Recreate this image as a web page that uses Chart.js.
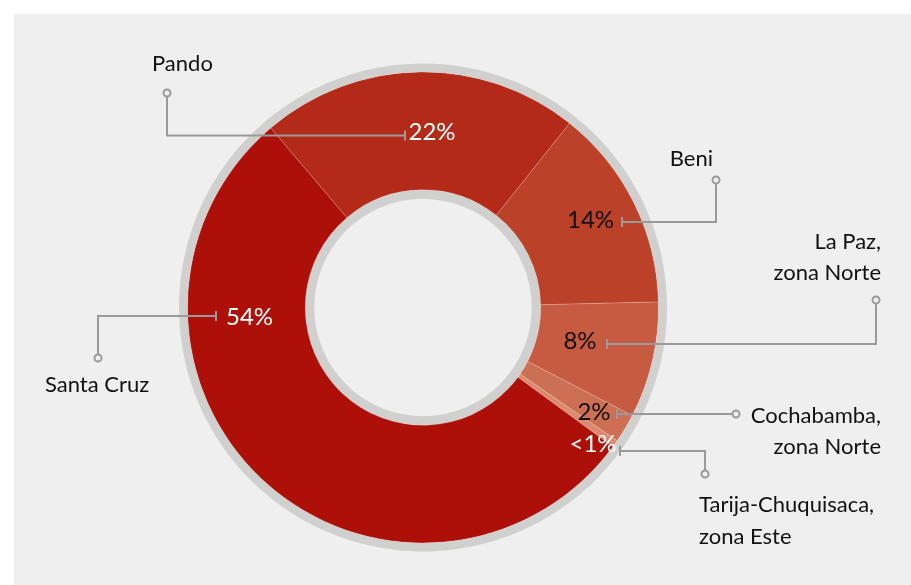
<!DOCTYPE html>
<html>
<head>
<meta charset="utf-8">
<script src="https://cdn.jsdelivr.net/npm/chart.js@4"></script>
<style>
  html, body { margin: 0; padding: 0; background: #ffffff; }
  canvas { display: block; }
</style>
</head>
<body>
<canvas id="zonasChart" width="911" height="585"></canvas>
<script>
  // Share of each zone, clockwise from Pando
  const zonas = ['Pando', 'Beni', 'La Paz, zona Norte', 'Cochabamba, zona Norte', 'Tarija-Chuquisaca, zona Este', 'Santa Cruz'];
  const porcentajes = [22, 14, 8, 2, 0.5, 54];
  const etiquetasPct = ['22%', '14%', '8%', '2%', '<1%', '54%'];
  const coloresZona = ['#b42a18', '#bb4128', '#c75b41', '#cd6f54', '#db8a70', '#ad1009'];

  // Callout layout, offsets from the doughnut centre (px)
  const callouts = [
    { pct: [9, -175.5], pctColor: '#ffffff', path: [[-18, -172], [-256, -172], [-256, -214.5]],
      lines: ['Pando'], at: [-271, -236.5], align: 'left' },
    { pct: [167.5, -87.5], pctColor: '#111111', path: [[199, -85.5], [293, -85.5], [293, -127.5]],
      lines: ['Beni'], at: [290, -141.5], align: 'right' },
    { pct: [157, 33.5], pctColor: '#111111', path: [[184, 36.5], [453, 36.5], [453, -7.5]],
      lines: ['La Paz,', 'zona Norte'], at: [458, -59], align: 'right' },
    { pct: [171, 104.5], pctColor: '#111111', path: [[194, 106.5], [313, 106.5]],
      lines: ['Cochabamba,', 'zona Norte'], at: [458, 115], align: 'right' },
    { pct: [170, 136.5], pctColor: '#ffffff', path: [[197, 143.5], [282, 143.5], [282, 166.5]],
      lines: ['Tarija-Chuquisaca,', 'zona Este'], at: [276, 204.5], align: 'left' },
    { pct: [-173.5, 9.5], pctColor: '#ffffff', path: [[-207, 8.5], [-325, 8.5], [-325, 50.5]],
      lines: ['Santa Cruz'], at: [-378, 84.5], align: 'left' }
  ];

  const FONDO = '#efefef';
  const LINEA = '#9a9a9a';
  const FUENTE = 'Lato, "Open Sans", sans-serif';

  const fondoPlugin = {
    id: 'fondo',
    beforeDraw(chart) {
      const ctx = chart.ctx;
      ctx.save();
      ctx.fillStyle = FONDO;
      ctx.fillRect(14, 14, chart.width - 14, chart.height - 14);
      ctx.restore();
    }
  };

  const calloutPlugin = {
    id: 'callouts',
    afterDatasetsDraw(chart) {
      const ctx = chart.ctx;
      const arcs = chart.getDatasetMeta(1).data;
      const cx = arcs[0].x, cy = arcs[0].y;
      ctx.save();
      callouts.forEach((c, i) => {
        // leader line with end tick and ring marker
        ctx.strokeStyle = LINEA;
        ctx.lineWidth = 2;
        ctx.beginPath();
        c.path.forEach((p, k) => {
          const x = cx + p[0], y = cy + p[1];
          if (k === 0) ctx.moveTo(x, y); else ctx.lineTo(x, y);
        });
        ctx.stroke();
        const s = c.path[0];
        ctx.beginPath();
        ctx.moveTo(cx + s[0], cy + s[1] - 5);
        ctx.lineTo(cx + s[0], cy + s[1] + 5);
        ctx.stroke();
        const e = c.path[c.path.length - 1];
        ctx.beginPath();
        ctx.arc(cx + e[0], cy + e[1], 3.5, 0, Math.PI * 2);
        ctx.fillStyle = FONDO;
        ctx.fill();
        ctx.stroke();

        // percentage inside the slice
        ctx.font = '24px ' + FUENTE;
        ctx.fillStyle = c.pctColor;
        ctx.textAlign = 'center';
        ctx.textBaseline = 'middle';
        ctx.fillText(etiquetasPct[i], cx + c.pct[0], cy + c.pct[1]);

        // zone name
        ctx.font = '22px ' + FUENTE;
        ctx.fillStyle = '#111111';
        ctx.textAlign = c.align;
        ctx.textBaseline = 'alphabetic';
        c.lines.forEach((t, k) => {
          ctx.fillText(t, cx + c.at[0], cy + c.at[1] + k * 31.5);
        });
      });
      ctx.restore();
    }
  };

  const ctx = document.getElementById('zonasChart').getContext('2d');
  new Chart(ctx, {
    type: 'doughnut',
    data: {
      labels: zonas,
      datasets: [
        { data: [1], backgroundColor: '#d0d0ce', borderWidth: 0, weight: 8.5 },
        { data: porcentajes, backgroundColor: coloresZona,
          borderColor: 'rgba(255,255,255,0.18)', borderWidth: 1, weight: 117.5 },
        { data: [1], backgroundColor: '#d0d0ce', borderWidth: 0, weight: 9 }
      ]
    },
    options: {
      responsive: false,
      animation: false,
      rotation: -40.3,
      cutout: '44.56%',
      layout: { padding: { left: 179, right: 244, top: 63.5, bottom: 33.5 } },
      plugins: {
        legend: { display: false },
        tooltip: { enabled: false }
      }
    },
    plugins: [fondoPlugin, calloutPlugin]
  });
</script>
</body>
</html>
